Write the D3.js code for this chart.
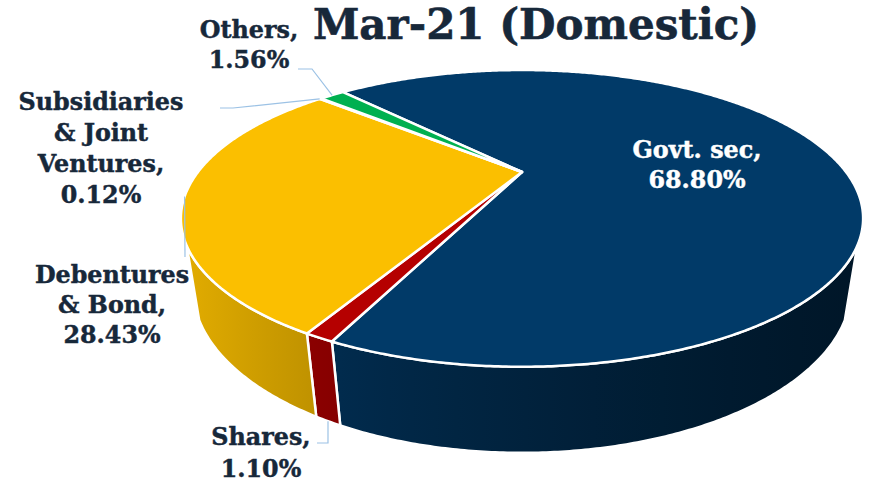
<!DOCTYPE html>
<html>
<head>
<meta charset="utf-8">
<script src="https://cdn.jsdelivr.net/npm/d3@7"></script>
<style>
  html, body { margin: 0; padding: 0; background: #ffffff; }
  svg { display: block; }
  text { font-family: "DejaVu Serif", serif; font-weight: bold; }
</style>
</head>
<body>
<svg id="chart" width="873" height="483"></svg>
<script>
// Investment mix, March 2021 (domestic), in percent
const categories = ["Govt. sec", "Shares", "Debentures & Bond", "Subsidiaries & Joint Ventures", "Others"];
const shares = [68.80, 1.10, 28.43, 0.12, 1.56];
const valueLabels = ["68.80%", "1.10%", "28.43%", "0.12%", "1.56%"];
const sliceColors = ["#013a68", "#b50000", "#fbbf00", "#ffffff", "#00b050"];
const titleText = "Mar-21 (Domestic)";

const svg = d3.select("#chart");

// Tilted, perspective disc: unit-radius pie viewed from above at an angle
const view = { cx: 522, cy: 172, radius: 324, tilt: 24.4 * Math.PI / 180, dist: 2.913, depth: 0.232 };
const cosT = Math.cos(view.tilt), sinT = Math.sin(view.tilt);
const xScale = d3.scaleLinear().domain([-1, 1]).range([view.cx - view.radius, view.cx + view.radius]);
const yScale = d3.scaleLinear().domain([-1, 1]).range([view.cy + view.radius, view.cy - view.radius]);

// angle a: clockwise from the far side of the disc; h: 0 = top face, -depth = bottom
function project(a, h) {
  const X = Math.sin(a), Z = Math.cos(a);
  const up = h * cosT + Z * sinT;
  const d = -h * sinT + Z * cosT;
  const s = view.dist / (view.dist + d);
  return [xScale(X * s), yScale(up * s)];
}
const apex = () => [xScale(0), yScale(0)];
function arcPoints(a0, a1, h) {
  const n = Math.max(2, Math.ceil(Math.abs(a1 - a0) / (0.5 * Math.PI / 180)));
  return d3.range(n + 1).map(i => project(a0 + (a1 - a0) * i / n, h));
}

const start = -42.8 * Math.PI / 180;
const pie = d3.pie().sort(null).value(d => d.v).startAngle(start).endAngle(start + 2 * Math.PI);
const slices = pie(categories.map((c, i) => ({ name: c, v: shares[i], color: sliceColors[i], label: valueLabels[i] })));

const line = d3.line();
const defs = svg.append("defs");

// Side shading: light from the left, darkening toward the right
const xL = 184, xR = 866;
slices.forEach((s, i) => {
  const g = defs.append("linearGradient")
    .attr("id", "side" + i).attr("gradientUnits", "userSpaceOnUse")
    .attr("x1", xL).attr("x2", xR).attr("y1", 0).attr("y2", 0);
  d3.range(0, 1.001, 0.1).forEach(t => {
    g.append("stop").attr("offset", t)
      .attr("stop-color", d3.color(s.data.color).darker(0.3 + 2.4 * t).formatHex());
  });
});

// Outer walls: only the front-facing stretch of the rim
const visA0 = 118 * Math.PI / 180, visA1 = 242 * Math.PI / 180;
const walls = svg.append("g");
slices.forEach((s, i) => {
  const b0 = Math.max(s.startAngle, visA0), b1 = Math.min(s.endAngle, visA1);
  if (b1 <= b0) return;
  const pts = arcPoints(b0, b1, 0).concat(arcPoints(b1, b0, -view.depth));
  walls.append("path")
    .attr("d", line(pts) + "Z")
    .attr("fill", "url(#side" + i + ")")
    .attr("stroke", "#ffffff").attr("stroke-width", 2.5).attr("stroke-linejoin", "round");
});

// Top faces
const tops = svg.append("g");
slices.forEach(s => {
  const pts = [apex()].concat(arcPoints(s.startAngle, s.endAngle, 0));
  tops.append("path")
    .attr("d", line(pts) + "Z")
    .attr("fill", s.data.color)
    .attr("stroke", "#ffffff").attr("stroke-width", 2.5).attr("stroke-linejoin", "round");
});

// Leader lines
const leaderColor = "#9cc2e5";
const mid = s => (s.startAngle + s.endAngle) / 2;
const leaders = [
  [[298, 69], [312, 69], project(mid(slices[4]), 0)],
  [[220, 108], [233, 108], project(slices[3].startAngle, 0)],
  [[185, 257], project(mid(slices[2]), 0)],
  [[317, 443], [328, 443], project(mid(slices[1]), -view.depth)]
];
svg.append("g").selectAll("path").data(leaders).join("path")
  .attr("d", d => line(d))
  .attr("fill", "none").attr("stroke", leaderColor).attr("stroke-width", 1.2);

// Data labels
const ink = "#17283a";
const labelSpecs = [
  { i: 0, x: 697, y: 158, lines: ["Govt. sec,"], fill: "#ffffff", dy: 30 },
  { i: 1, x: 261, y: 445, lines: ["Shares,"], fill: ink, dy: 32 },
  { i: 2, x: 112, y: 283, lines: ["Debentures", "& Bond,"], fill: ink, dy: 30 },
  { i: 3, x: 101, y: 110, lines: ["Subsidiaries", "& Joint", "Ventures,"], fill: ink, dy: 31 },
  { i: 4, x: 249, y: 38, lines: ["Others,"], fill: ink, dy: 30 }
];
const labels = svg.append("g");
labelSpecs.forEach(spec => {
  const t = labels.append("text")
    .attr("x", spec.x).attr("y", spec.y)
    .attr("text-anchor", "middle")
    .attr("font-size", 23.8)
    .attr("fill", spec.fill)
    .attr("stroke", spec.fill).attr("stroke-width", 0.45);
  const rows = spec.lines.concat([slices[spec.i].data.label]);
  rows.forEach((r, k) => {
    t.append("tspan").attr("x", spec.x).attr("dy", k === 0 ? 0 : spec.dy).text(r);
  });
});

// Title
svg.append("text")
  .attr("x", 536).attr("y", 39)
  .attr("text-anchor", "middle")
  .attr("font-size", 42)
  .attr("fill", ink)
  .attr("stroke", ink).attr("stroke-width", 0.6)
  .text(titleText);
</script>
</body>
</html>
